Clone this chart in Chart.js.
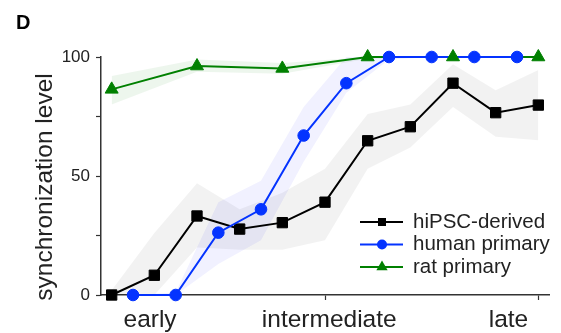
<!DOCTYPE html>
<html>
<head>
<meta charset="utf-8">
<script src="https://cdn.jsdelivr.net/npm/chart.js@4.4.1/dist/chart.umd.min.js"></script>
<style>
  html, body { margin: 0; padding: 0; background: #ffffff; }
  #wrap { position: relative; width: 561px; height: 333px; }
</style>
</head>
<body>
<div id="wrap"><canvas id="chart-sync" width="561" height="333"></canvas></div>
<script>
// x axis: recording index, stage names placed under it
const stageLabels = ['early', 'intermediate', 'late'];
const stagePositions = [0.9, 5.1, 9.3];
const stageTicks = [0, 5, 10];
const levelTicks = [0, 25, 50, 75, 100];
const levelLabels = ['0', '', '50', '', '100'];

// hiPSC-derived (mean + shaded spread)
const hipscX = [0, 1, 2, 3, 4, 5, 6, 7, 8, 9, 10];
const hipscY = [0, 8.3, 33.2, 27.7, 30.4, 39, 64.8, 70.7, 89, 76.6, 79.8];
const hipscLow = [0, 0, 20, 19, 19, 23, 53, 62, 79, 66.5, 65];
const hipscHigh = [2, 26, 47, 36, 43, 53, 76, 80, 97, 86, 94.5];

// human primary
const humanX = [0.5, 1.5, 2.5, 3.5, 4.5, 5.5, 6.5, 7.5, 8.5, 9.5];
const humanY = [0, 0, 26.2, 36, 67, 89, 100, 100, 100, 100];
const humanLow = [0, 0, 13, 23, 56, 85, 99, 100, 100, 100];
const humanHigh = [0, 1, 39, 48, 79, 100, 100, 100, 100, 100];

// rat primary
const ratX = [0, 2, 4, 6, 8, 10];
const ratY = [86.4, 96.2, 95.2, 100, 100, 100];
const ratLow = [80, 93.8, 93, 99.3, 100, 100];
const ratHigh = [92, 99, 97.5, 100, 100, 100];

const seriesNames = ['hiPSC-derived', 'human primary', 'rat primary'];

const FONT = "'Liberation Sans', Arial, Helvetica, sans-serif";
const INK = '#222222';
const AXIS = '#333333';
const BLACK = '#000000';
const BLUE = '#0433ff';
const GREEN = '#008000';

Chart.defaults.font.family = FONT;
Chart.defaults.color = INK;

function pts(xs, ys) {
    return xs.map((x, i) => ({ x: x, y: ys[i] }));
}

function band(xs, lo, hi, color) {
    // lower edge + upper edge filled to the previous dataset
    const edge = {
        type: 'line',
        borderWidth: 0,
        borderColor: 'rgba(0,0,0,0)',
        pointRadius: 0,
        tension: 0,
        order: 10,
        clip: false
    };
    return [
        Object.assign({}, edge, { data: pts(xs, lo), fill: false }),
        Object.assign({}, edge, { data: pts(xs, hi), fill: '-1', backgroundColor: color })
    ];
}

function series(label, xs, ys, color, style, radius, order, showLine, showPoints) {
    return {
        type: 'line',
        label: label,
        data: pts(xs, ys),
        borderColor: color,
        backgroundColor: color,
        borderWidth: 2,
        tension: 0,
        fill: false,
        showLine: showLine,
        pointStyle: style,
        pointRadius: showPoints ? radius : 0,
        pointBorderWidth: 1,
        pointBorderColor: color,
        pointBackgroundColor: color,
        order: order,
        clip: false
    };
}

const datasets = [].concat(
    band(hipscX, hipscLow, hipscHigh, 'rgba(0,0,0,0.052)'),
    band(humanX, humanLow, humanHigh, 'rgba(40,40,255,0.065)'),
    band(ratX, ratLow, ratHigh, 'rgba(0,128,0,0.07)'),
    [
        series(seriesNames[0], hipscX, hipscY, BLACK, 'rect', 7.3, 4, true, true),
        series(seriesNames[2], ratX, ratY, GREEN, 'triangle', 7.5, 3, true, false),
        series(seriesNames[1], humanX, humanY, BLUE, 'circle', 5.8, 2, true, true),
        series(seriesNames[2], ratX, ratY, GREEN, 'triangle', 7.5, 1, false, true)
    ]
);

// legend entries: line + marker like the figure
const legendItems = [
    { text: seriesNames[0], color: BLACK, style: 'rect', r: 5 },
    { text: seriesNames[1], color: BLUE, style: 'circle', r: 5 },
    { text: seriesNames[2], color: GREEN, style: 'triangle', r: 6.5 }
];

function marker(ctx, style, x, y, r) {
    ctx.beginPath();
    if (style === 'rect') {
        ctx.rect(x - r * 0.8, y - r * 0.8, r * 1.6, r * 1.6);
    } else if (style === 'circle') {
        ctx.arc(x, y, r, 0, Math.PI * 2);
    } else {
        ctx.moveTo(x, y - r);
        ctx.lineTo(x + r * 0.866, y + r * 0.5);
        ctx.lineTo(x - r * 0.866, y + r * 0.5);
        ctx.closePath();
    }
    ctx.fill();
}

const panelText = {
    id: 'panelText',
    afterDraw(chart) {
        const ctx = chart.ctx;
        ctx.save();

        // panel letter
        ctx.fillStyle = '#000';
        ctx.font = 'bold 20px ' + FONT;
        ctx.textAlign = 'left';
        ctx.textBaseline = 'alphabetic';
        ctx.fillText('D', 16, 29);

        // y axis title
        ctx.fillStyle = INK;
        ctx.font = '24.5px ' + FONT;
        ctx.translate(45.5, 187);
        ctx.rotate(-Math.PI / 2);
        ctx.textAlign = 'center';
        ctx.textBaseline = 'middle';
        ctx.fillText('synchronization level', 0, 0);
        ctx.setTransform(1, 0, 0, 1, 0, 0);

        // legend
        const rows = [222, 244.5, 267];
        legendItems.forEach((it, i) => {
            const y = rows[i];
            ctx.strokeStyle = it.color;
            ctx.fillStyle = it.color;
            ctx.lineWidth = 2;
            ctx.beginPath();
            ctx.moveTo(360, y);
            ctx.lineTo(403, y);
            ctx.stroke();
            marker(ctx, it.style, 382, y, it.r);
            ctx.fillStyle = INK;
            ctx.font = '20.5px ' + FONT;
            ctx.textAlign = 'left';
            ctx.textBaseline = 'middle';
            ctx.fillText(it.text, 413, y);
        });
        ctx.restore();
    }
};

const chart = new Chart(document.getElementById('chart-sync').getContext('2d'), {
    type: 'line',
    data: { datasets: datasets },
    options: {
        responsive: false,
        animation: false,
        events: [],
        devicePixelRatio: 1,
        layout: { padding: { top: 57, right: 12, bottom: 0, left: 0 } },
        plugins: {
            legend: { display: false },
            tooltip: { enabled: false },
            title: { display: false }
        },
        scales: {
            x: {
                type: 'linear',
                position: 'bottom',
                weight: 0,
                min: -0.25,
                max: 10.25,
                afterBuildTicks: s => { s.ticks = stageTicks.map(v => ({ value: v })); },
                afterFit: s => { s.height = 5; },
                grid: { drawOnChartArea: false, tickLength: 5, tickColor: AXIS, tickWidth: 1.2 },
                border: { color: AXIS, width: 1.5 },
                ticks: { display: false }
            },
            xStage: {
                type: 'linear',
                position: 'bottom',
                weight: 1,
                min: -0.25,
                max: 10.25,
                afterBuildTicks: s => { s.ticks = stagePositions.map(v => ({ value: v })); },
                afterFit: s => { s.height = 33; },
                grid: { display: false, drawTicks: false },
                border: { display: false },
                ticks: {
                    autoSkip: false,
                    maxRotation: 0,
                    padding: 6,
                    color: INK,
                    font: { size: 24.5 },
                    callback: (v, i) => stageLabels[i]
                }
            },
            y: {
                type: 'linear',
                min: 0,
                max: 100,
                afterBuildTicks: s => { s.ticks = levelTicks.map(v => ({ value: v })); },
                afterFit: s => { s.width = 101; },
                grid: { drawOnChartArea: false, tickLength: 5, tickColor: AXIS, tickWidth: 1.2 },
                border: { color: AXIS, width: 1.5 },
                ticks: {
                    padding: 6,
                    color: INK,
                    font: { size: 17 },
                    callback: (v, i) => levelLabels[i]
                }
            }
        }
    },
    plugins: [panelText]
});
</script>
</body>
</html>
